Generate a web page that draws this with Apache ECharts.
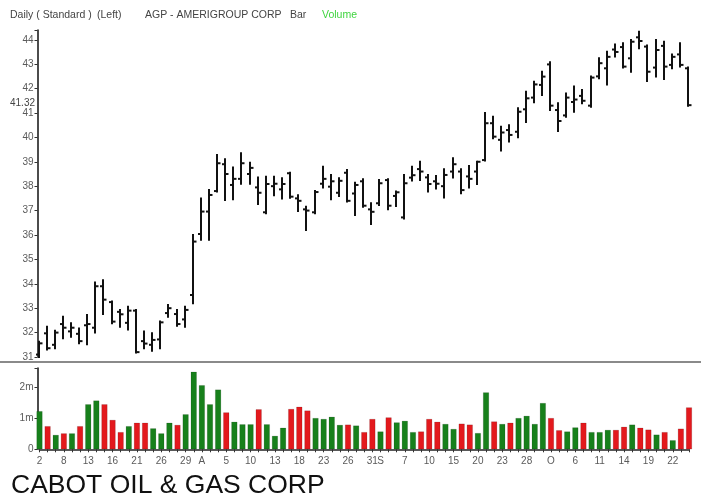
<!DOCTYPE html>
<html>
<head>
<meta charset="utf-8">
<script src="https://cdn.jsdelivr.net/npm/echarts@6/dist/echarts.min.js"></script>
<style>
  html, body { margin: 0; padding: 0; background: #fff; }
  #main { width: 701px; height: 496px; }
</style>
</head>
<body>
<div id="main"></div>
<script>
// trading days, Jul 2 - Oct 26 2010
const dates = [
  '07-02', '07-06', '07-07', '07-08', '07-09', '07-12', '07-13', '07-14', '07-15', '07-16',
  '07-19', '07-20', '07-21', '07-22', '07-23', '07-26', '07-27', '07-28', '07-29', '07-30',
  '08-02', '08-03', '08-04', '08-05', '08-06', '08-09', '08-10', '08-11', '08-12', '08-13',
  '08-16', '08-17', '08-18', '08-19', '08-20', '08-23', '08-24', '08-25', '08-26', '08-27',
  '08-30', '08-31', '09-01', '09-02', '09-03', '09-07', '09-08', '09-09', '09-10', '09-13',
  '09-14', '09-15', '09-16', '09-17', '09-20', '09-21', '09-22', '09-23', '09-24', '09-27',
  '09-28', '09-29', '09-30', '10-01', '10-04', '10-05', '10-06', '10-07', '10-08', '10-11',
  '10-12', '10-13', '10-14', '10-15', '10-18', '10-19', '10-20', '10-21', '10-22', '10-25',
  '10-26'
]
// label shown under each bar ('' = no label)
const tickLabels = [
  '2', '', '', '8', '', '', '13', '', '', '16',
  '', '', '21', '', '', '26', '', '', '29', '',
  'A', '', '', '5', '', '', '10', '', '', '13',
  '', '', '18', '', '', '23', '', '', '26', '',
  '', '31', 'S', '', '', '7', '', '', '10', '',
  '', '15', '', '', '20', '', '', '23', '', '',
  '28', '', '', 'O', '', '', '6', '', '', '11',
  '', '', '14', '', '', '19', '', '', '22', '',
  ''
]
const open = [
  31.10, 31.97, 31.50, 32.35, 32.05, 31.95, 32.30, 32.20, 33.90, 33.25,
  32.85, 32.40, 32.90, 31.65, 31.50, 31.72, 32.80, 32.76, 32.54, 33.54,
  36.04, 36.96, 37.80, 38.90, 38.05, 38.30, 38.50, 37.95, 36.93, 38.00,
  37.87, 38.53, 37.50, 37.05, 36.93, 38.10, 37.98, 37.73, 38.55, 37.70,
  38.20, 37.05, 37.30, 38.25, 37.60, 36.72, 38.35, 38.70, 38.36, 38.20,
  38.00, 38.60, 38.60, 38.40, 38.60, 39.07, 40.58, 39.90, 40.30, 40.23,
  41.15, 41.63, 42.15, 42.99, 41.12, 40.90, 41.45, 41.70, 41.30, 42.50,
  42.83, 43.60, 43.70, 43.24, 44.10, 43.72, 42.86, 43.75, 42.97, 43.40,
  42.83
]
const high = [
  31.63, 32.24, 32.08, 32.65, 32.38, 32.17, 32.72, 34.05, 34.15, 33.27,
  32.93, 33.06, 32.93, 32.04, 31.97, 32.45, 33.13, 32.93, 33.06, 36.00,
  37.50, 37.84, 39.28, 39.10, 38.77, 39.35, 38.96, 38.36, 38.39, 38.39,
  38.32, 38.55, 37.63, 37.16, 37.80, 38.80, 38.46, 38.32, 38.66, 38.14,
  38.28, 37.30, 38.25, 38.28, 37.78, 38.46, 38.80, 39.00, 38.46, 38.42,
  38.69, 39.14, 38.69, 38.83, 39.00, 41.00, 40.85, 40.44, 40.50, 41.19,
  41.87, 42.28, 42.69, 43.08, 41.40, 41.80, 42.08, 41.94, 42.49, 43.24,
  43.51, 43.81, 43.86, 43.99, 44.33, 43.76, 43.99, 43.92, 43.40, 43.86,
  42.86
]
const low = [
  31.00, 31.31, 31.36, 31.77, 31.83, 31.56, 31.52, 32.00, 32.76, 32.38,
  32.24, 32.13, 31.18, 31.36, 31.26, 31.36, 32.65, 32.28, 32.24, 33.20,
  35.80, 35.80, 37.78, 37.43, 37.46, 38.10, 38.10, 37.27, 36.89, 37.63,
  37.50, 37.53, 36.98, 36.20, 36.89, 37.95, 37.46, 37.60, 37.37, 36.82,
  37.16, 36.45, 37.23, 37.05, 37.19, 36.68, 38.23, 38.25, 37.78, 37.91,
  37.54, 38.36, 37.71, 37.95, 38.09, 39.05, 39.96, 39.46, 39.83, 40.00,
  40.63, 41.44, 41.74, 41.12, 40.26, 40.85, 41.05, 41.40, 41.26, 42.42,
  42.17, 43.31, 42.86, 42.69, 43.65, 42.31, 42.49, 42.39, 42.83, 42.90,
  41.30
]
const close = [
  31.56, 31.36, 32.00, 32.20, 32.20, 31.65, 32.35, 33.90, 33.35, 32.45,
  32.75, 32.90, 31.20, 31.55, 31.70, 32.42, 33.00, 32.35, 32.93, 35.73,
  36.96, 37.64, 38.94, 38.50, 38.30, 38.94, 38.75, 37.73, 38.09, 38.10,
  38.09, 37.57, 37.40, 37.00, 37.76, 38.30, 38.20, 38.22, 37.40, 38.05,
  37.20, 36.95, 38.12, 37.20, 37.75, 38.12, 38.45, 38.60, 38.09, 38.10,
  38.46, 38.90, 37.84, 38.30, 39.00, 40.58, 40.03, 40.20, 40.10, 41.05,
  41.60, 42.17, 42.49, 41.30, 40.67, 41.63, 41.55, 41.50, 42.45, 43.04,
  43.30, 43.50, 42.90, 43.92, 43.95, 42.69, 43.58, 42.90, 43.30, 42.97,
  41.32
]
// volume in millions of shares
const volume = [
  1.22, 0.74, 0.46, 0.51, 0.51, 0.74, 1.44, 1.56, 1.44, 0.94,
  0.55, 0.74, 0.85, 0.85, 0.67, 0.51, 0.85, 0.78, 1.12, 2.48,
  2.05, 1.44, 1.91, 1.18, 0.88, 0.80, 0.80, 1.28, 0.80, 0.43,
  0.69, 1.29, 1.36, 1.24, 1.00, 0.97, 1.04, 0.78, 0.79, 0.76,
  0.55, 0.97, 0.57, 1.02, 0.86, 0.91, 0.55, 0.57, 0.97, 0.88,
  0.81, 0.65, 0.82, 0.79, 0.52, 1.82, 0.89, 0.81, 0.85, 1.00,
  1.07, 0.81, 1.48, 1.00, 0.61, 0.57, 0.70, 0.85, 0.55, 0.55,
  0.62, 0.62, 0.72, 0.79, 0.69, 0.63, 0.47, 0.55, 0.29, 0.66,
  1.34
]
const priceTicks = [31, 44]   // first / last labelled price
const volumeTicks = ['0', '1m', '2m']

const GREEN = '#17801b'
const RED = '#e3191d'
const AXIS_TEXT = '#5a5a5a'
const FONT = 'Liberation Sans, Arial, sans-serif'

const ohlc = dates.map((d, i) => [i, open[i], high[i], low[i], close[i]])

// OHLC bar: vertical high-low, open tick left, close tick right
function renderOhlc(params, api) {
  const i = api.value(0)
  const o = api.coord([i, api.value(1)])
  const h = api.coord([i, api.value(2)])
  const l = api.coord([i, api.value(3)])
  const c = api.coord([i, api.value(4)])
  const x = Math.round(o[0]) - 1
  const style = { stroke: '#111', lineWidth: 2 }
  return {
    type: 'group',
    children: [
      { type: 'line', shape: { x1: x, y1: h[1] - 1, x2: x, y2: l[1] + 1 }, style },
      { type: 'line', shape: { x1: x - 3, y1: o[1], x2: x, y2: o[1] }, style },
      { type: 'line', shape: { x1: x, y1: c[1], x2: x + 3.5, y2: c[1] }, style }
    ]
  }
}

function headText(x, text, color) {
  return {
    type: 'text', x: x, y: 15,
    style: { text: text, fontSize: 10.5, fill: color, fontFamily: FONT, verticalAlign: 'middle' }
  }
}

const chart = echarts.init(document.getElementById('main'), null, { renderer: 'canvas' })

const gridLeft = 39.5
const gridRight = 12

const option = {
  animation: false,
  backgroundColor: '#fff',
  textStyle: { fontFamily: FONT },
  grid: [
    { left: gridLeft, right: gridRight, top: 30, height: 327 },
    { left: gridLeft, right: gridRight, top: 368, height: 81.3 }
  ],
  xAxis: [
    {
      type: 'category', gridIndex: 0, data: dates, boundaryGap: false,
      show: false
    },
    {
      type: 'category', gridIndex: 1, data: dates, boundaryGap: false,
      axisLine: { lineStyle: { color: '#222', width: 1.5 } },
      axisTick: { interval: 0, length: 3, lineStyle: { color: '#333' } },
      axisLabel: {
        interval: 0, margin: 7, fontSize: 10, color: AXIS_TEXT,
        formatter: (v, idx) => tickLabels[idx]
      },
      splitLine: { show: false }
    }
  ],
  yAxis: [
    {
      type: 'value', gridIndex: 0, min: priceTicks[0], max: 44.4, interval: 1,
      offset: 2,
      axisLine: { show: true, lineStyle: { color: '#111', width: 1.5 } },
      axisTick: { show: true, length: 3, lineStyle: { color: '#333' } },
      axisLabel: {
        fontSize: 10, color: AXIS_TEXT, margin: 4,
        formatter: v => (Number.isInteger(v) && v <= priceTicks[1]) ? String(v) : ''
      },
      splitLine: { show: false }
    },
    {
      type: 'value', gridIndex: 1, min: 0, max: 2.6, interval: 1,
      offset: 2,
      axisLine: { show: true, lineStyle: { color: '#111', width: 1.5 } },
      axisTick: { show: true, length: 3, lineStyle: { color: '#333' } },
      axisLabel: {
        fontSize: 10, color: AXIS_TEXT, margin: 4,
        formatter: v => Number.isInteger(v) ? volumeTicks[v] : ''
      },
      splitLine: { show: false }
    }
  ],
  series: [
    {
      type: 'custom',
      name: 'AGP',
      xAxisIndex: 0,
      yAxisIndex: 0,
      renderItem: renderOhlc,
      encode: { x: 0, y: [1, 2, 3, 4] },
      data: ohlc,
      clip: false
    },
    {
      type: 'bar',
      name: 'Volume',
      xAxisIndex: 1,
      yAxisIndex: 1,
      barWidth: 6,
      data: volume,
      itemStyle: {
        color: p => close[p.dataIndex] >= open[p.dataIndex] ? GREEN : RED,
        borderColor: 'rgba(0,0,0,0.25)',
        borderWidth: 0.5
      }
    }
  ],
  graphic: [
    headText(10, 'Daily ( Standard )', '#444'),
    headText(97, '(Left)', '#444'),
    headText(145, 'AGP - AMERIGROUP CORP', '#444'),
    headText(290, 'Bar', '#444'),
    headText(322, 'Volume', '#3fd43f'),
    {
      type: 'rect', left: 0, top: 361,
      shape: { width: 701, height: 2 },
      style: { fill: '#8a8a8a' }
    },
    {
      type: 'text', left: 11, top: 472,
      style: {
        text: 'CABOT OIL & GAS CORP', fontSize: 26.5,
        fill: '#111', fontFamily: FONT
      }
    }
  ]
}

chart.setOption(option)

// last close marker on the price axis
const lastClose = close[close.length - 1]
const yLast = chart.convertToPixel({ yAxisIndex: 0 }, lastClose)
chart.setOption({
  graphic: [
    {
      type: 'text', id: 'lastClose', x: 35, y: yLast - 2,
      style: {
        text: lastClose.toFixed(2), fontSize: 10, fill: '#444',
        align: 'right', verticalAlign: 'middle', fontFamily: FONT
      }
    }
  ]
})
</script>
</body>
</html>
